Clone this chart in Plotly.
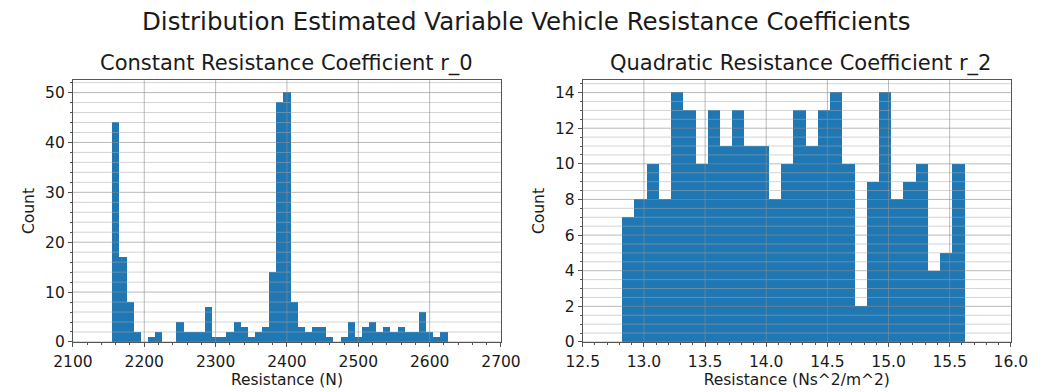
import numpy as np
import plotly.graph_objects as go

# Histogram of the constant resistance coefficient r_0 (N)
r0_bin_start = 2155.0
r0_bin_width = 10.0
r0_counts = [44, 17, 8, 2, 0, 1, 2, 0, 0, 4, 2, 2, 2, 7, 1, 1, 2, 4, 3, 1, 2, 3,
             14, 48, 50, 8, 3, 2, 3, 3, 1, 0, 1, 4, 1, 3, 4, 2, 3, 2, 3, 2, 2,
             6, 2, 1, 2]

# Histogram of the quadratic resistance coefficient r_2 (Ns^2/m^2)
r2_bin_start = 12.82
r2_bin_width = 0.1
r2_counts = [7, 8, 10, 8, 14, 13, 10, 13, 11, 13, 11, 11, 8, 10, 13, 11, 13, 14,
             10, 2, 9, 14, 8, 9, 10, 4, 5, 10]

r0_xticks = [2100, 2200, 2300, 2400, 2500, 2600, 2700]
r0_yticks = [0, 10, 20, 30, 40, 50]
r2_xticks = [12.5, 13.0, 13.5, 14.0, 14.5, 15.0, 15.5, 16.0]
r2_yticks = [0, 2, 4, 6, 8, 10, 12, 14]

BAR = "#1f77b4"
FONT = "DejaVu Sans"
TXT = "#1a1a1a"
W, H = 1052, 392
TICK_SIZE = 15.5


def centers(start, width, n):
    return start + width * (np.arange(n) + 0.5)


fig = go.Figure()
fig.add_trace(go.Bar(
    x=centers(r0_bin_start, r0_bin_width, len(r0_counts)), y=r0_counts,
    width=r0_bin_width, marker=dict(color=BAR, line=dict(width=0)),
    xaxis="x", yaxis="y", showlegend=False, hoverinfo="x+y"))
fig.add_trace(go.Bar(
    x=centers(r2_bin_start, r2_bin_width, len(r2_counts)), y=r2_counts,
    width=r2_bin_width, marker=dict(color=BAR, line=dict(width=0)),
    xaxis="x2", yaxis="y2", showlegend=False, hoverinfo="x+y"))

# plot area in pixels
L1, R1 = 55, 500
L2, R2 = 585, 1030
TOP, BOT = 82, 350
ydom = [(H - BOT) / H, (H - TOP) / H]

axis_common = dict(
    showgrid=False, zeroline=False, showline=True, linecolor="#555",
    linewidth=1, mirror=True, ticks="outside", ticklen=4, tickwidth=1,
    tickcolor="#555", tickfont=dict(family=FONT, size=TICK_SIZE, color=TXT),
)
title_font = dict(family=FONT, size=TICK_SIZE, color=TXT)

fig.update_layout(
    width=W, height=H, margin=dict(l=0, r=0, t=0, b=0),
    paper_bgcolor="white", plot_bgcolor="white", bargap=0,
    xaxis=dict(domain=[L1 / W, R1 / W], range=[2100, 2700],
               tickvals=r0_xticks, anchor="y", ticklabelstandoff=1,
               minor=dict(dtick=20, ticklen=2, tickcolor="#555", showgrid=False),
               title=dict(text="Resistance (N)", standoff=4, font=title_font),
               **axis_common),
    yaxis=dict(domain=ydom, range=[0, 52.5], tickvals=r0_yticks, anchor="x",
               minor=dict(dtick=2, ticklen=2, tickcolor="#555", showgrid=False),
               title=dict(text="Count", standoff=6, font=title_font),
               **axis_common),
    xaxis2=dict(domain=[L2 / W, R2 / W], range=[12.5, 16.0],
                tickvals=r2_xticks, ticktext=[f"{v:.1f}" for v in r2_xticks],
                anchor="y2", ticklabelstandoff=1,
                minor=dict(dtick=0.1, ticklen=2, tickcolor="#555", showgrid=False),
                title=dict(text="Resistance (Ns^2/m^2)", standoff=4, font=title_font),
                **axis_common),
    yaxis2=dict(domain=ydom, range=[0, 14.7], tickvals=r2_yticks, anchor="x2",
                minor=dict(dtick=0.5, ticklen=2, tickcolor="#555", showgrid=False),
                title=dict(text="Count", standoff=6, font=title_font),
                **axis_common),
)

MAJOR = "rgba(140,140,140,0.6)"
MINOR = "rgba(170,170,170,0.5)"


def hgrid(yref, xdom, values, color):
    for v in values:
        fig.add_shape(type="line", xref=xdom, yref=yref, x0=0, x1=1, y0=v, y1=v,
                      line=dict(color=color, width=1), layer="above")


def vgrid(xref, ydomref, values, color):
    for v in values:
        fig.add_shape(type="line", xref=xref, yref=ydomref, x0=v, x1=v, y0=0, y1=1,
                      line=dict(color=color, width=1), layer="above")


# grid lines drawn on top of the bars
r0_minor_y = [v for v in np.arange(0, 52.5, 2) if v % 10 != 0]
r2_minor_y = [v for v in np.arange(0, 14.7, 0.5) if v % 2 != 0]
hgrid("y", "x domain", r0_minor_y, MINOR)
hgrid("y", "x domain", r0_yticks, MAJOR)
vgrid("x", "y domain", r0_xticks[1:-1], MAJOR)
hgrid("y2", "x2 domain", r2_minor_y, MINOR)
hgrid("y2", "x2 domain", r2_yticks, MAJOR)
vgrid("x2", "y2 domain", r2_xticks[1:-1], MAJOR)

fig.add_annotation(text="Distribution Estimated Variable Vehicle Resistance Coefficients",
                   xref="paper", yref="paper", x=0.5, y=1 - 22 / H,
                   xanchor="center", yanchor="middle", showarrow=False,
                   font=dict(family=FONT, size=24.5, color=TXT))
fig.add_annotation(text="Constant Resistance Coefficient r_0",
                   xref="paper", yref="paper", x=(L1 + R1) / 2 / W, y=1 - 65 / H,
                   xanchor="center", yanchor="middle", showarrow=False,
                   font=dict(family=FONT, size=21, color=TXT))
fig.add_annotation(text="Quadratic Resistance Coefficient r_2",
                   xref="paper", yref="paper", x=(L2 + R2) / 2 / W + 4 / W, y=1 - 65 / H,
                   xanchor="center", yanchor="middle", showarrow=False,
                   font=dict(family=FONT, size=21, color=TXT))

fig.write_html("out.html")
